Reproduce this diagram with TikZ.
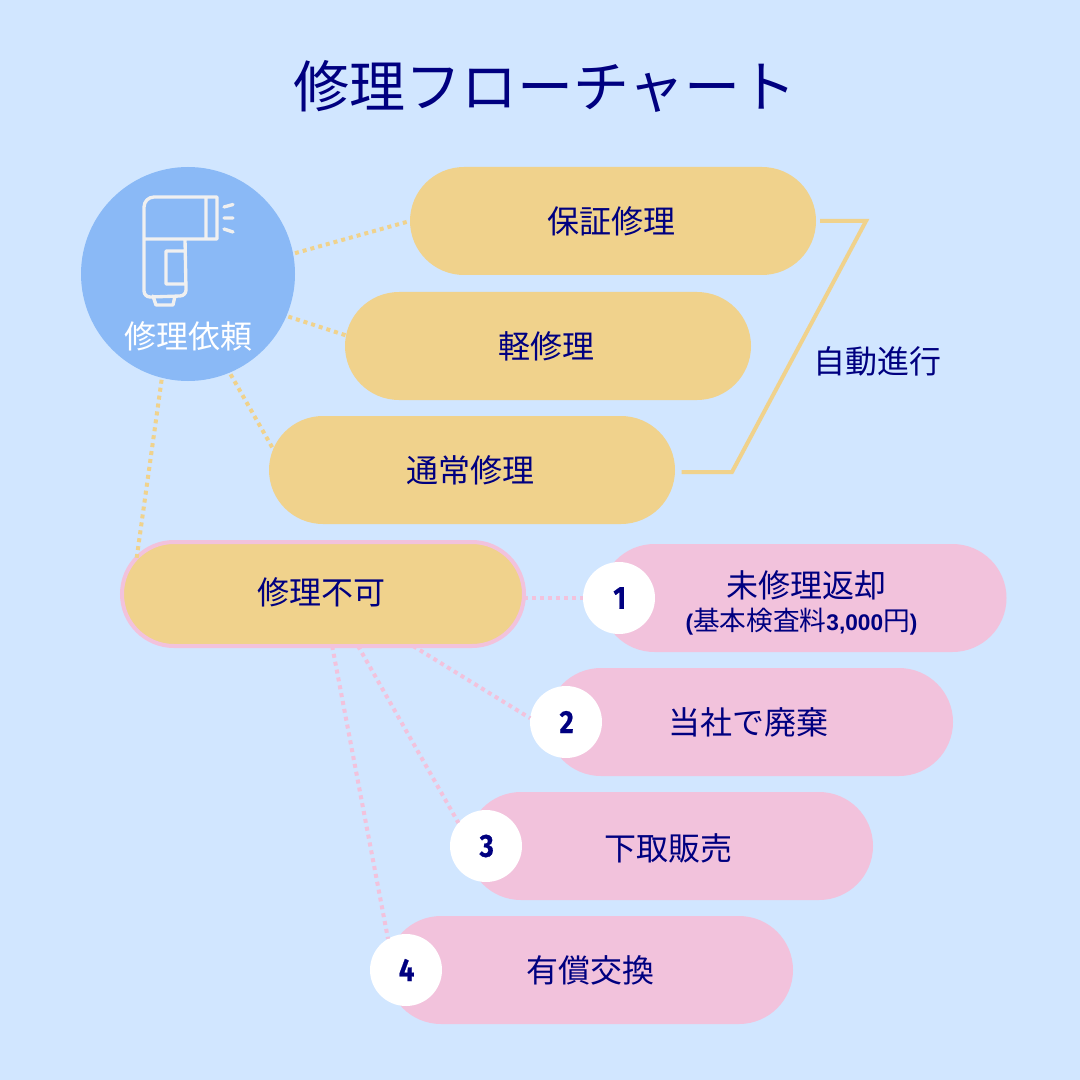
\documentclass[tikz,border=0pt]{standalone}
\usepackage{fontspec}
\setmainfont{Noto Sans CJK JP}
\newfontfamily\numfont[FakeStretch=0.85,BoldFeatures={FakeBold=0.6}]{Fira Sans}
\newfontfamily\latinfont{Liberation Sans}
\definecolor{sky}{HTML}{D1E6FF}
\definecolor{cornflower}{HTML}{8AB9F6}
\definecolor{straw}{HTML}{F0D28C}
\definecolor{blush}{HTML}{F2C2DC}
\definecolor{navy-ink}{HTML}{000080}
\definecolor{chalk}{HTML}{F0F0F0}
\usetikzlibrary{positioning}
\usetikzlibrary{shapes.misc}
\newcommand{\sized}[1]{\fontsize{#1}{#1}\selectfont}

\begin{document}
\begin{tikzpicture}[%
            x=0.75pt,y=-0.75pt,
            pill/.style={%
              rounded rectangle,
              minimum width=304.5pt,
              minimum height=81pt,
              inner sep=0pt,
              outer sep=0pt,
              text=navy-ink,
              font=\sized{24},
              align=center,
              execute at end node={\hspace*{3pt}},
            },
            repair/.style={pill,fill=straw},
            outcome/.style={pill,fill=blush},
            badge/.style={%
              circle,
              fill=white,
              minimum size=54pt,
              inner sep=0pt,
              outer sep=0pt,
              text=navy-ink,
              font=\numfont\bfseries\sized{24},
            },
            yellowdots/.style={straw,line width=3pt,dash pattern=on 3pt off 3pt},
            pinkdots/.style={blush,line width=3pt,dash pattern=on 3pt off 3pt},
            scanner/.pic={%
              \draw [chalk,line width=2.5pt,line join=round,line cap=round]
                (0,42) -- (0,10) arc [start angle=180,end angle=90,radius=7.5pt]
                -- (73,0) -- (73,42) -- cycle
                (62,0) -- (62,42)
                (0,42) -- (0,94) arc [start angle=180,end angle=270,radius=4.5pt]
                -- (36,99) arc [start angle=270,end angle=360,radius=4.5pt] -- (41,42)
                (41,54) -- (22,54) -- (22,87) -- (41,87)
                (9,99) -- (12,108) -- (29,108) -- (31,99)
                (80,10) -- (89,7.5)
                (80,21) -- (89,21)
                (80,32) -- (89,35);
            }
          ]
            \fill [sky] (0,0) rectangle (1080,1080);
            \node [text=navy-ink,font=\sized{42}] (title) at (545,86) {修理フローチャート};

            \node [circle,fill=cornflower,minimum size=160.5pt,inner sep=0pt,outer sep=1.5pt] (request) at (188,274) {};
            \pic at (144,197) {scanner};
            \node [text=white,font=\sized{24}] (request label) at (188.5,336) {修理依頼};

            \node [repair] (warranty) at (613,221) {保証修理};
            \node [repair] (light) at (548,346) {軽修理};
            \node [repair] (normal) at (472,470) {通常修理};
            \node [repair,draw=blush,line width=3pt,minimum width=301.5pt,minimum height=78pt] (fail) at (323,594) {修理不可\rule[-4.5pt]{0pt}{0pt}};

            \node [outcome] (unrepaired) at (803.5,598) {\rule{0pt}{28pt}\hspace*{7.5pt}未修理返却\\[0.5pt]{\sized{20}{\latinfont\bfseries\sized{17}(}基本検査料{\latinfont\bfseries\sized{17}3,000}円{\latinfont\bfseries\sized{17})}}};
            \node [outcome] (dispose) at (750,722) {当社で廃棄};
            \node [outcome] (tradein) at (670,846) {\rule{0pt}{24pt}下取販売};
            \node [outcome] (exchange) at (590,970) {\hspace*{3pt}有償交換};

            \node [badge] (no 1) at (619,598) {\hspace*{1pt}1};
            \node [badge] (no 2) at (566,722) {\hspace*{1pt}2};
            \node [badge] (no 3) at (486,846) {\hspace*{1pt}3};
            \node [badge] (no 4) at (406,970) {\hspace*{1pt}4};

            \draw [yellowdots] (request.11) -- (warranty.west);
            \draw [yellowdots] (request.-23) -- (light.177);
            \draw [yellowdots] (request.-67) -- (normal.174);
            \draw [yellowdots] (request.-104) -- (fail.169);

            \draw [pinkdots] (no 1.west -| fail.east) -- (no 1.west);
            \draw [pinkdots] (fail.-30) -- (no 2.174);
            \draw [pinkdots] (fail.-56) -- (no 3.140);
            \draw [pinkdots] (fail.-80) -- (no 4.120);

            \coordinate [right=3pt of warranty] (auto top);
            \coordinate [right=5pt of normal,yshift=-1.5pt] (auto bottom);
            \draw [straw,line width=3pt] (auto top) -- (866,221) -- (732,472) -- (auto bottom);
            \node [text=navy-ink,font=\sized{24}] (auto label) at (877,361) {自動進行};
          \end{tikzpicture}
\end{document}
